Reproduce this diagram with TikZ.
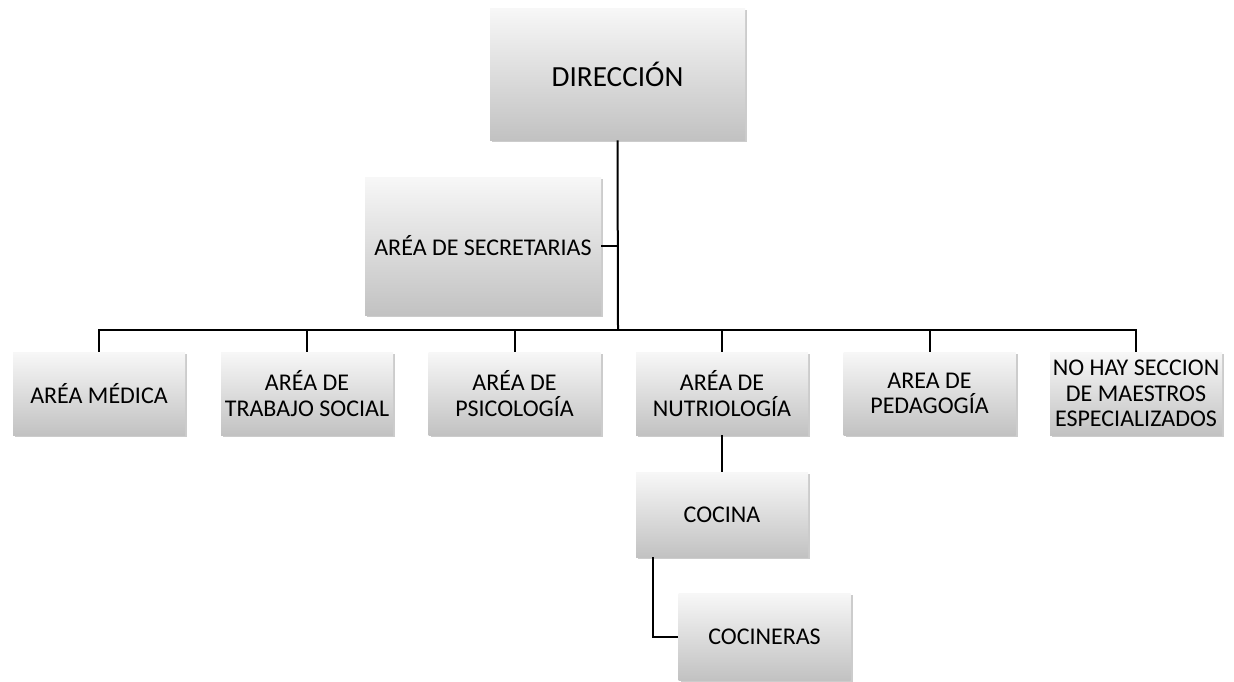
\documentclass[tikz,border=0pt]{standalone}
\usepackage{fontspec}
\setmainfont{Carlito}
\usepackage{tikz}
\usetikzlibrary{positioning}
\usetikzlibrary{shadows}

\tikzset{
    unit/.style={rectangle, top color=white!97!black, bottom color=white!76!black,
        drop shadow={shadow xshift=1.2pt, shadow yshift=-1.2pt, opacity=0.2, fill=black},
        align=center, minimum width=86pt, minimum height=41.5pt, inner sep=0.5pt,
        font=\fontsize{12}{12.8}\selectfont},
    link/.style={draw, line width=1pt}
}

\begin{document}
\begin{tikzpicture}[x=0.5pt, y=-0.5pt]

    \useasboundingbox (0,0) rectangle (1234,681);

    % top of the chart
    \node[unit, minimum width=127.5pt, minimum height=66pt, font=\fontsize{14.6}{17}\selectfont] (dir) at (617.5,74) {DIRECCIÓN};
    \node[unit, minimum width=118pt, minimum height=69pt] (secr) at (483,246) {ARÉA DE SECRETARIAS};

    % areas
    \node[unit] (med) at (99,393.5) {ARÉA MÉDICA};
    \node[unit] (soc) at (307,393.5) {ARÉA DE\\TRABAJO SOCIAL};
    \node[unit] (psi) at (514.5,393.5) {ARÉA DE\\PSICOLOGÍA};
    \node[unit] (nut) at (722,393.5) {ARÉA DE\\NUTRIOLOGÍA};
    \node[unit] (ped) at (929.5,393.5) {AREA DE\\PEDAGOGÍA};
    \node[unit] (mae) at (1136,393.5) {NO HAY SECCION\\DE MAESTROS\\ESPECIALIZADOS};

    % kitchen
    \node[unit, minimum height=42.5pt] (coc) at (722,514.5) {COCINA};
    \node[unit, minimum height=43.5pt] (cocn) at (764.5,636.5) {COCINERAS};

    \coordinate (bus) at (618,330);

    % connectors
    \path[link] (dir.south) -- (bus);
    \path[link] (secr.east) -- (secr.east -| bus);
    \foreach \n in {med,soc,psi,nut,ped,mae}
        \path[link] (\n.north) |- (bus);
    \path[link] (nut.south) -- (coc.north);
    \path[link] ([xshift=8.5pt]coc.south west) |- (cocn.west);

\end{tikzpicture}
\end{document}
